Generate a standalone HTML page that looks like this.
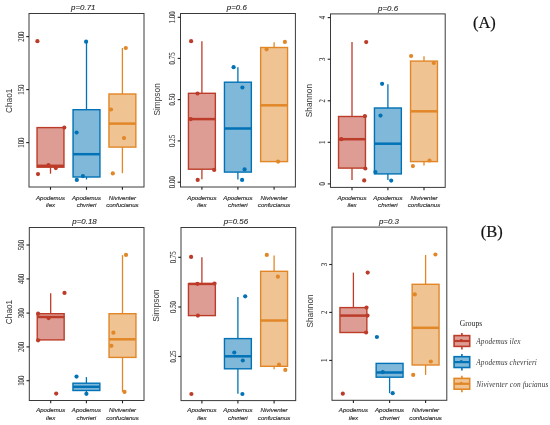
<!DOCTYPE html>
<html><head><meta charset="utf-8"><title>Alpha diversity boxplots</title>
<style>
html,body{margin:0;padding:0;background:#fff;}
body{width:550px;height:425px;overflow:hidden;}
svg{display:block;will-change:transform;}
text{font-family:"Liberation Sans",sans-serif;}
.yt{font-family:"Liberation Serif",serif;font-size:8px;fill:#333;stroke:#333;stroke-width:0.1px;text-anchor:middle;}
.xt{font-size:6.1px;font-style:italic;fill:#2a2a2a;stroke:#2a2a2a;stroke-width:0.15px;text-anchor:middle;}
.tt{font-size:7.9px;font-style:italic;fill:#1a1a1a;stroke:#1a1a1a;stroke-width:0.1px;text-anchor:middle;}
.yl{font-size:8.3px;fill:#333;text-anchor:middle;}
.ab{font-family:"Liberation Serif",serif;font-size:16.5px;fill:#111;stroke:#111;stroke-width:0.2px;text-anchor:middle;}
.lgt{font-family:"Liberation Serif",serif;font-size:7.6px;fill:#222;}
.lg{font-family:"Liberation Serif",serif;font-size:7.3px;letter-spacing:0.12px;font-style:italic;fill:#3a3a3a;}
</style></head>
<body>
<svg width="550" height="425" viewBox="0 0 550 425">
<rect width="550" height="425" fill="#fff"/>
<line x1="50.5" y1="167.2" x2="50.5" y2="173.7" stroke="#BC3C29" stroke-width="1.3"/>
<rect x="37.05" y="127.6" width="26.90" height="39.60" fill="#DD9D94" stroke="#BC3C29" stroke-width="1.4"/>
<line x1="37.05" y1="165.8" x2="63.95" y2="165.8" stroke="#BC3C29" stroke-width="2.5"/>
<circle cx="37.4" cy="41.2" r="2.1" fill="#BC3C29"/>
<circle cx="64.3" cy="127.6" r="2.1" fill="#BC3C29"/>
<circle cx="48.5" cy="165.2" r="2.1" fill="#BC3C29"/>
<circle cx="55.8" cy="168.1" r="2.1" fill="#BC3C29"/>
<circle cx="38.0" cy="174.1" r="2.1" fill="#BC3C29"/>
<line x1="86.5" y1="41.6" x2="86.5" y2="109.7" stroke="#0072B5" stroke-width="1.3"/>
<line x1="86.5" y1="177.0" x2="86.5" y2="179.5" stroke="#0072B5" stroke-width="1.3"/>
<rect x="73.05" y="109.7" width="26.90" height="67.30" fill="#80B8DA" stroke="#0072B5" stroke-width="1.4"/>
<line x1="73.05" y1="154.2" x2="99.95" y2="154.2" stroke="#0072B5" stroke-width="2.5"/>
<circle cx="86.1" cy="41.7" r="2.1" fill="#0072B5"/>
<circle cx="76.6" cy="132.5" r="2.1" fill="#0072B5"/>
<circle cx="82.9" cy="176.1" r="2.1" fill="#0072B5"/>
<circle cx="76.8" cy="179.9" r="2.1" fill="#0072B5"/>
<line x1="122.4" y1="48.0" x2="122.4" y2="94.0" stroke="#E18727" stroke-width="1.3"/>
<line x1="122.4" y1="147.1" x2="122.4" y2="173.2" stroke="#E18727" stroke-width="1.3"/>
<rect x="108.95" y="94.0" width="26.90" height="53.10" fill="#F0C393" stroke="#E18727" stroke-width="1.4"/>
<line x1="108.95" y1="123.6" x2="135.85" y2="123.6" stroke="#E18727" stroke-width="2.5"/>
<circle cx="125.8" cy="48.0" r="2.1" fill="#E18727"/>
<circle cx="111.0" cy="109.5" r="2.1" fill="#E18727"/>
<circle cx="124.0" cy="138.1" r="2.1" fill="#E18727"/>
<circle cx="112.8" cy="173.4" r="2.1" fill="#E18727"/>
<rect x="29.0" y="13.5" width="115.00" height="173.50" fill="none" stroke="#3a3a3a" stroke-width="1.0"/>
<line x1="26.20" y1="36.6" x2="29.0" y2="36.6" stroke="#222" stroke-width="1.1"/>
<text class="yt" transform="translate(23.90,36.6) rotate(-90) scale(0.86,1)">200</text>
<line x1="26.20" y1="89.6" x2="29.0" y2="89.6" stroke="#222" stroke-width="1.1"/>
<text class="yt" transform="translate(23.90,89.6) rotate(-90) scale(0.86,1)">150</text>
<line x1="26.20" y1="142.6" x2="29.0" y2="142.6" stroke="#222" stroke-width="1.1"/>
<text class="yt" transform="translate(23.90,142.6) rotate(-90) scale(0.86,1)">100</text>
<line x1="50.5" y1="187.0" x2="50.5" y2="189.80" stroke="#222" stroke-width="1.1"/>
<text class="xt" x="50.5" y="199.50">Apodemus</text>
<text class="xt" x="50.5" y="206.80">ilex</text>
<line x1="86.5" y1="187.0" x2="86.5" y2="189.80" stroke="#222" stroke-width="1.1"/>
<text class="xt" x="86.5" y="199.50">Apodemus</text>
<text class="xt" x="86.5" y="206.80">chvrieri</text>
<line x1="122.4" y1="187.0" x2="122.4" y2="189.80" stroke="#222" stroke-width="1.1"/>
<text class="xt" x="122.4" y="199.50">Niviventer</text>
<text class="xt" x="122.4" y="206.80">confucianus</text>
<text class="tt" x="83.3" y="10.3">p=0.71</text>
<text class="yl" transform="translate(11.8,100.8) rotate(-90)">Chao1</text>
<line x1="201.9" y1="41.2" x2="201.9" y2="93.3" stroke="#BC3C29" stroke-width="1.3"/>
<line x1="201.9" y1="169.2" x2="201.9" y2="179.2" stroke="#BC3C29" stroke-width="1.3"/>
<rect x="188.45" y="93.3" width="26.90" height="75.90" fill="#DD9D94" stroke="#BC3C29" stroke-width="1.4"/>
<line x1="188.45" y1="119.1" x2="215.35" y2="119.1" stroke="#BC3C29" stroke-width="2.5"/>
<circle cx="191.1" cy="41.2" r="2.1" fill="#BC3C29"/>
<circle cx="197.5" cy="93.5" r="2.1" fill="#BC3C29"/>
<circle cx="190.7" cy="119.1" r="2.1" fill="#BC3C29"/>
<circle cx="214.2" cy="169.9" r="2.1" fill="#BC3C29"/>
<circle cx="197.7" cy="179.9" r="2.1" fill="#BC3C29"/>
<line x1="237.9" y1="67.2" x2="237.9" y2="82.2" stroke="#0072B5" stroke-width="1.3"/>
<line x1="237.9" y1="172.1" x2="237.9" y2="179.5" stroke="#0072B5" stroke-width="1.3"/>
<rect x="224.45" y="82.2" width="26.90" height="89.90" fill="#80B8DA" stroke="#0072B5" stroke-width="1.4"/>
<line x1="224.45" y1="128.5" x2="251.35" y2="128.5" stroke="#0072B5" stroke-width="2.5"/>
<circle cx="233.6" cy="67.2" r="2.1" fill="#0072B5"/>
<circle cx="242.4" cy="87.5" r="2.1" fill="#0072B5"/>
<circle cx="244.6" cy="169.4" r="2.1" fill="#0072B5"/>
<circle cx="242.1" cy="179.9" r="2.1" fill="#0072B5"/>
<line x1="274.1" y1="42.3" x2="274.1" y2="47.5" stroke="#E18727" stroke-width="1.3"/>
<rect x="260.65" y="47.5" width="26.90" height="114.10" fill="#F0C393" stroke="#E18727" stroke-width="1.4"/>
<line x1="260.65" y1="105.3" x2="287.55" y2="105.3" stroke="#E18727" stroke-width="2.5"/>
<circle cx="284.9" cy="41.9" r="2.1" fill="#E18727"/>
<circle cx="266.6" cy="49.3" r="2.1" fill="#E18727"/>
<circle cx="278.1" cy="161.6" r="2.1" fill="#E18727"/>
<rect x="180.5" y="13.5" width="114.90" height="173.50" fill="none" stroke="#3a3a3a" stroke-width="1.0"/>
<line x1="177.70" y1="17.3" x2="180.5" y2="17.3" stroke="#222" stroke-width="1.1"/>
<text class="yt" transform="translate(175.40,17.3) rotate(-90) scale(0.86,1)">1.00</text>
<line x1="177.70" y1="58.4" x2="180.5" y2="58.4" stroke="#222" stroke-width="1.1"/>
<text class="yt" transform="translate(175.40,58.4) rotate(-90) scale(0.86,1)">0.75</text>
<line x1="177.70" y1="99.6" x2="180.5" y2="99.6" stroke="#222" stroke-width="1.1"/>
<text class="yt" transform="translate(175.40,99.6) rotate(-90) scale(0.86,1)">0.50</text>
<line x1="177.70" y1="140.9" x2="180.5" y2="140.9" stroke="#222" stroke-width="1.1"/>
<text class="yt" transform="translate(175.40,140.9) rotate(-90) scale(0.86,1)">0.25</text>
<line x1="177.70" y1="182.2" x2="180.5" y2="182.2" stroke="#222" stroke-width="1.1"/>
<text class="yt" transform="translate(175.40,182.2) rotate(-90) scale(0.86,1)">0.00</text>
<line x1="201.9" y1="187.0" x2="201.9" y2="189.80" stroke="#222" stroke-width="1.1"/>
<text class="xt" x="201.9" y="199.50">Apodemus</text>
<text class="xt" x="201.9" y="206.80">ilex</text>
<line x1="237.9" y1="187.0" x2="237.9" y2="189.80" stroke="#222" stroke-width="1.1"/>
<text class="xt" x="237.9" y="199.50">Apodemus</text>
<text class="xt" x="237.9" y="206.80">chvrieri</text>
<line x1="274.1" y1="187.0" x2="274.1" y2="189.80" stroke="#222" stroke-width="1.1"/>
<text class="xt" x="274.1" y="199.50">Niviventer</text>
<text class="xt" x="274.1" y="206.80">confucianus</text>
<text class="tt" x="236.8" y="10.3">p=0.6</text>
<text class="yl" transform="translate(159.6,99.4) rotate(-90)">Simpson</text>
<line x1="352.0" y1="42.1" x2="352.0" y2="116.5" stroke="#BC3C29" stroke-width="1.3"/>
<line x1="352.0" y1="168.1" x2="352.0" y2="179.9" stroke="#BC3C29" stroke-width="1.3"/>
<rect x="338.55" y="116.5" width="26.90" height="51.60" fill="#DD9D94" stroke="#BC3C29" stroke-width="1.4"/>
<line x1="338.55" y1="139.2" x2="365.45" y2="139.2" stroke="#BC3C29" stroke-width="2.5"/>
<circle cx="366.2" cy="42.1" r="2.1" fill="#BC3C29"/>
<circle cx="364.9" cy="116.2" r="2.1" fill="#BC3C29"/>
<circle cx="341.4" cy="139.2" r="2.1" fill="#BC3C29"/>
<circle cx="365.3" cy="168.5" r="2.1" fill="#BC3C29"/>
<circle cx="364.2" cy="180.4" r="2.1" fill="#BC3C29"/>
<line x1="387.9" y1="84.2" x2="387.9" y2="108.0" stroke="#0072B5" stroke-width="1.3"/>
<line x1="387.9" y1="173.9" x2="387.9" y2="179.9" stroke="#0072B5" stroke-width="1.3"/>
<rect x="374.45" y="108.0" width="26.90" height="65.90" fill="#80B8DA" stroke="#0072B5" stroke-width="1.4"/>
<line x1="374.45" y1="143.7" x2="401.35" y2="143.7" stroke="#0072B5" stroke-width="2.5"/>
<circle cx="382.1" cy="83.8" r="2.1" fill="#0072B5"/>
<circle cx="380.5" cy="115.6" r="2.1" fill="#0072B5"/>
<circle cx="375.4" cy="172.1" r="2.1" fill="#0072B5"/>
<circle cx="391.2" cy="180.6" r="2.1" fill="#0072B5"/>
<line x1="424.0" y1="56.3" x2="424.0" y2="61.1" stroke="#E18727" stroke-width="1.3"/>
<line x1="424.0" y1="161.6" x2="424.0" y2="165.6" stroke="#E18727" stroke-width="1.3"/>
<rect x="410.55" y="61.1" width="26.90" height="100.50" fill="#F0C393" stroke="#E18727" stroke-width="1.4"/>
<line x1="410.55" y1="111.3" x2="437.45" y2="111.3" stroke="#E18727" stroke-width="2.5"/>
<circle cx="411.1" cy="56.0" r="2.1" fill="#E18727"/>
<circle cx="433.8" cy="63.0" r="2.1" fill="#E18727"/>
<circle cx="429.5" cy="160.5" r="2.1" fill="#E18727"/>
<circle cx="412.9" cy="166.1" r="2.1" fill="#E18727"/>
<rect x="330.5" y="13.9" width="114.70" height="173.50" fill="none" stroke="#3a3a3a" stroke-width="1.0"/>
<line x1="327.70" y1="17.6" x2="330.5" y2="17.6" stroke="#222" stroke-width="1.1"/>
<text class="yt" transform="translate(325.40,17.6) rotate(-90) scale(0.86,1)">4</text>
<line x1="327.70" y1="59.2" x2="330.5" y2="59.2" stroke="#222" stroke-width="1.1"/>
<text class="yt" transform="translate(325.40,59.2) rotate(-90) scale(0.86,1)">3</text>
<line x1="327.70" y1="100.8" x2="330.5" y2="100.8" stroke="#222" stroke-width="1.1"/>
<text class="yt" transform="translate(325.40,100.8) rotate(-90) scale(0.86,1)">2</text>
<line x1="327.70" y1="142.3" x2="330.5" y2="142.3" stroke="#222" stroke-width="1.1"/>
<text class="yt" transform="translate(325.40,142.3) rotate(-90) scale(0.86,1)">1</text>
<line x1="327.70" y1="183.9" x2="330.5" y2="183.9" stroke="#222" stroke-width="1.1"/>
<text class="yt" transform="translate(325.40,183.9) rotate(-90) scale(0.86,1)">0</text>
<line x1="352.0" y1="187.4" x2="352.0" y2="190.20" stroke="#222" stroke-width="1.1"/>
<text class="xt" x="352.0" y="199.90">Apodemus</text>
<text class="xt" x="352.0" y="207.20">ilex</text>
<line x1="387.9" y1="187.4" x2="387.9" y2="190.20" stroke="#222" stroke-width="1.1"/>
<text class="xt" x="387.9" y="199.90">Apodemus</text>
<text class="xt" x="387.9" y="207.20">chvrieri</text>
<line x1="424.0" y1="187.4" x2="424.0" y2="190.20" stroke="#222" stroke-width="1.1"/>
<text class="xt" x="424.0" y="199.90">Niviventer</text>
<text class="xt" x="424.0" y="207.20">confucianus</text>
<text class="tt" x="388.1" y="10.8">p=0.6</text>
<text class="yl" transform="translate(311.8,100.6) rotate(-90)">Shannon</text>
<line x1="50.7" y1="293.3" x2="50.7" y2="313.7" stroke="#BC3C29" stroke-width="1.3"/>
<rect x="37.25" y="313.7" width="26.90" height="26.20" fill="#DD9D94" stroke="#BC3C29" stroke-width="1.4"/>
<line x1="37.25" y1="317.0" x2="64.15" y2="317.0" stroke="#BC3C29" stroke-width="2.5"/>
<circle cx="64.5" cy="292.9" r="2.1" fill="#BC3C29"/>
<circle cx="38.1" cy="313.7" r="2.1" fill="#BC3C29"/>
<circle cx="48.6" cy="318.1" r="2.1" fill="#BC3C29"/>
<circle cx="38.1" cy="340.3" r="2.1" fill="#BC3C29"/>
<circle cx="56.2" cy="393.6" r="2.1" fill="#BC3C29"/>
<line x1="86.4" y1="377.1" x2="86.4" y2="383.2" stroke="#0072B5" stroke-width="1.3"/>
<line x1="86.4" y1="390.5" x2="86.4" y2="393.8" stroke="#0072B5" stroke-width="1.3"/>
<rect x="72.95" y="383.2" width="26.90" height="7.30" fill="#80B8DA" stroke="#0072B5" stroke-width="1.4"/>
<line x1="72.95" y1="386.8" x2="99.85" y2="386.8" stroke="#0072B5" stroke-width="2.5"/>
<circle cx="76.5" cy="376.6" r="2.1" fill="#0072B5"/>
<circle cx="86.4" cy="393.8" r="2.1" fill="#0072B5"/>
<line x1="122.5" y1="255.1" x2="122.5" y2="313.7" stroke="#E18727" stroke-width="1.3"/>
<line x1="122.5" y1="357.4" x2="122.5" y2="391.8" stroke="#E18727" stroke-width="1.3"/>
<rect x="109.05" y="313.7" width="26.90" height="43.70" fill="#F0C393" stroke="#E18727" stroke-width="1.4"/>
<line x1="109.05" y1="339.3" x2="135.95" y2="339.3" stroke="#E18727" stroke-width="2.5"/>
<circle cx="126.0" cy="254.9" r="2.1" fill="#E18727"/>
<circle cx="113.4" cy="332.7" r="2.1" fill="#E18727"/>
<circle cx="111.4" cy="345.8" r="2.1" fill="#E18727"/>
<circle cx="124.5" cy="391.9" r="2.1" fill="#E18727"/>
<rect x="29.3" y="227.5" width="114.70" height="173.00" fill="none" stroke="#3a3a3a" stroke-width="1.0"/>
<line x1="26.50" y1="245.0" x2="29.3" y2="245.0" stroke="#222" stroke-width="1.1"/>
<text class="yt" transform="translate(24.20,245.0) rotate(-90) scale(0.86,1)">500</text>
<line x1="26.50" y1="278.9" x2="29.3" y2="278.9" stroke="#222" stroke-width="1.1"/>
<text class="yt" transform="translate(24.20,278.9) rotate(-90) scale(0.86,1)">400</text>
<line x1="26.50" y1="313.1" x2="29.3" y2="313.1" stroke="#222" stroke-width="1.1"/>
<text class="yt" transform="translate(24.20,313.1) rotate(-90) scale(0.86,1)">300</text>
<line x1="26.50" y1="346.9" x2="29.3" y2="346.9" stroke="#222" stroke-width="1.1"/>
<text class="yt" transform="translate(24.20,346.9) rotate(-90) scale(0.86,1)">200</text>
<line x1="26.50" y1="380.7" x2="29.3" y2="380.7" stroke="#222" stroke-width="1.1"/>
<text class="yt" transform="translate(24.20,380.7) rotate(-90) scale(0.86,1)">100</text>
<line x1="50.7" y1="400.5" x2="50.7" y2="403.30" stroke="#222" stroke-width="1.1"/>
<text class="xt" x="50.7" y="412.10">Apodemus</text>
<text class="xt" x="50.7" y="419.70">ilex</text>
<line x1="86.4" y1="400.5" x2="86.4" y2="403.30" stroke="#222" stroke-width="1.1"/>
<text class="xt" x="86.4" y="412.10">Apodemus</text>
<text class="xt" x="86.4" y="419.70">chvrieri</text>
<line x1="122.5" y1="400.5" x2="122.5" y2="403.30" stroke="#222" stroke-width="1.1"/>
<text class="xt" x="122.5" y="412.10">Niviventer</text>
<text class="xt" x="122.5" y="419.70">confucianus</text>
<text class="tt" x="84.5" y="224.3">p=0.18</text>
<text class="yl" transform="translate(12.0,312.0) rotate(-90)">Chao1</text>
<line x1="201.9" y1="257.3" x2="201.9" y2="283.7" stroke="#BC3C29" stroke-width="1.3"/>
<rect x="188.45" y="283.7" width="26.90" height="31.90" fill="#DD9D94" stroke="#BC3C29" stroke-width="1.4"/>
<line x1="188.45" y1="283.9" x2="215.35" y2="283.9" stroke="#BC3C29" stroke-width="2.5"/>
<circle cx="191.1" cy="256.9" r="2.1" fill="#BC3C29"/>
<circle cx="197.4" cy="283.8" r="2.1" fill="#BC3C29"/>
<circle cx="214.5" cy="283.5" r="2.1" fill="#BC3C29"/>
<circle cx="197.9" cy="315.6" r="2.1" fill="#BC3C29"/>
<circle cx="191.4" cy="394.0" r="2.1" fill="#BC3C29"/>
<line x1="237.9" y1="297.0" x2="237.9" y2="338.6" stroke="#0072B5" stroke-width="1.3"/>
<line x1="237.9" y1="368.8" x2="237.9" y2="393.8" stroke="#0072B5" stroke-width="1.3"/>
<rect x="224.45" y="338.6" width="26.90" height="30.20" fill="#80B8DA" stroke="#0072B5" stroke-width="1.4"/>
<line x1="224.45" y1="356.3" x2="251.35" y2="356.3" stroke="#0072B5" stroke-width="2.5"/>
<circle cx="245.2" cy="296.3" r="2.1" fill="#0072B5"/>
<circle cx="234.3" cy="352.5" r="2.1" fill="#0072B5"/>
<circle cx="242.8" cy="360.5" r="2.1" fill="#0072B5"/>
<circle cx="242.4" cy="394.0" r="2.1" fill="#0072B5"/>
<line x1="274.1" y1="255.5" x2="274.1" y2="271.3" stroke="#E18727" stroke-width="1.3"/>
<line x1="274.1" y1="366.3" x2="274.1" y2="369.2" stroke="#E18727" stroke-width="1.3"/>
<rect x="260.65" y="271.3" width="26.90" height="95.00" fill="#F0C393" stroke="#E18727" stroke-width="1.4"/>
<line x1="260.65" y1="320.5" x2="287.55" y2="320.5" stroke="#E18727" stroke-width="2.5"/>
<circle cx="266.8" cy="254.9" r="2.1" fill="#E18727"/>
<circle cx="277.9" cy="276.7" r="2.1" fill="#E18727"/>
<circle cx="279.0" cy="364.7" r="2.1" fill="#E18727"/>
<circle cx="285.3" cy="369.9" r="2.1" fill="#E18727"/>
<rect x="181.0" y="227.5" width="114.70" height="173.10" fill="none" stroke="#3a3a3a" stroke-width="1.0"/>
<line x1="178.20" y1="257.3" x2="181.0" y2="257.3" stroke="#222" stroke-width="1.1"/>
<text class="yt" transform="translate(175.90,257.3) rotate(-90) scale(0.86,1)">0.75</text>
<line x1="178.20" y1="307.0" x2="181.0" y2="307.0" stroke="#222" stroke-width="1.1"/>
<text class="yt" transform="translate(175.90,307.0) rotate(-90) scale(0.86,1)">0.50</text>
<line x1="178.20" y1="356.5" x2="181.0" y2="356.5" stroke="#222" stroke-width="1.1"/>
<text class="yt" transform="translate(175.90,356.5) rotate(-90) scale(0.86,1)">0.25</text>
<line x1="201.9" y1="400.6" x2="201.9" y2="403.40" stroke="#222" stroke-width="1.1"/>
<text class="xt" x="201.9" y="412.20">Apodemus</text>
<text class="xt" x="201.9" y="419.80">ilex</text>
<line x1="237.9" y1="400.6" x2="237.9" y2="403.40" stroke="#222" stroke-width="1.1"/>
<text class="xt" x="237.9" y="412.20">Apodemus</text>
<text class="xt" x="237.9" y="419.80">chvrieri</text>
<line x1="274.1" y1="400.6" x2="274.1" y2="403.40" stroke="#222" stroke-width="1.1"/>
<text class="xt" x="274.1" y="412.20">Niviventer</text>
<text class="xt" x="274.1" y="419.80">confucianus</text>
<text class="tt" x="235.9" y="224.3">p=0.56</text>
<text class="yl" transform="translate(159.2,305.5) rotate(-90)">Simpson</text>
<line x1="353.4" y1="272.6" x2="353.4" y2="307.6" stroke="#BC3C29" stroke-width="1.3"/>
<rect x="339.95" y="307.6" width="26.90" height="24.90" fill="#DD9D94" stroke="#BC3C29" stroke-width="1.4"/>
<line x1="339.95" y1="315.6" x2="366.85" y2="315.6" stroke="#BC3C29" stroke-width="2.5"/>
<circle cx="367.7" cy="272.6" r="2.1" fill="#BC3C29"/>
<circle cx="366.5" cy="307.6" r="2.1" fill="#BC3C29"/>
<circle cx="367.5" cy="315.6" r="2.1" fill="#BC3C29"/>
<circle cx="366.1" cy="332.5" r="2.1" fill="#BC3C29"/>
<circle cx="342.8" cy="393.7" r="2.1" fill="#BC3C29"/>
<line x1="389.6" y1="377.2" x2="389.6" y2="393.2" stroke="#0072B5" stroke-width="1.3"/>
<rect x="376.15" y="363.4" width="26.90" height="13.80" fill="#80B8DA" stroke="#0072B5" stroke-width="1.4"/>
<line x1="376.15" y1="372.5" x2="403.05" y2="372.5" stroke="#0072B5" stroke-width="2.5"/>
<circle cx="376.9" cy="337.0" r="2.1" fill="#0072B5"/>
<circle cx="382.8" cy="372.1" r="2.1" fill="#0072B5"/>
<circle cx="392.7" cy="393.2" r="2.1" fill="#0072B5"/>
<line x1="425.6" y1="254.9" x2="425.6" y2="284.3" stroke="#E18727" stroke-width="1.3"/>
<line x1="425.6" y1="365.0" x2="425.6" y2="374.9" stroke="#E18727" stroke-width="1.3"/>
<rect x="412.15" y="284.3" width="26.90" height="80.70" fill="#F0C393" stroke="#E18727" stroke-width="1.4"/>
<line x1="412.15" y1="327.8" x2="439.05" y2="327.8" stroke="#E18727" stroke-width="2.5"/>
<circle cx="435.4" cy="254.5" r="2.1" fill="#E18727"/>
<circle cx="414.8" cy="294.4" r="2.1" fill="#E18727"/>
<circle cx="430.8" cy="361.5" r="2.1" fill="#E18727"/>
<circle cx="413.2" cy="374.9" r="2.1" fill="#E18727"/>
<rect x="332.0" y="227.1" width="114.80" height="173.20" fill="none" stroke="#3a3a3a" stroke-width="1.0"/>
<line x1="329.20" y1="264.5" x2="332.0" y2="264.5" stroke="#222" stroke-width="1.1"/>
<text class="yt" transform="translate(326.90,264.5) rotate(-90) scale(0.86,1)">3</text>
<line x1="329.20" y1="312.4" x2="332.0" y2="312.4" stroke="#222" stroke-width="1.1"/>
<text class="yt" transform="translate(326.90,312.4) rotate(-90) scale(0.86,1)">2</text>
<line x1="329.20" y1="360.4" x2="332.0" y2="360.4" stroke="#222" stroke-width="1.1"/>
<text class="yt" transform="translate(326.90,360.4) rotate(-90) scale(0.86,1)">1</text>
<line x1="353.4" y1="400.3" x2="353.4" y2="403.10" stroke="#222" stroke-width="1.1"/>
<text class="xt" x="353.4" y="411.90">Apodemus</text>
<text class="xt" x="353.4" y="419.50">ilex</text>
<line x1="389.6" y1="400.3" x2="389.6" y2="403.10" stroke="#222" stroke-width="1.1"/>
<text class="xt" x="389.6" y="411.90">Apodemus</text>
<text class="xt" x="389.6" y="419.50">chvrieri</text>
<line x1="425.6" y1="400.3" x2="425.6" y2="403.10" stroke="#222" stroke-width="1.1"/>
<text class="xt" x="425.6" y="411.90">Niviventer</text>
<text class="xt" x="425.6" y="419.50">confucianus</text>
<text class="tt" x="388.9" y="224.0">p=0.3</text>
<text class="yl" transform="translate(312.9,311.0) rotate(-90)">Shannon</text>
<text class="ab" x="484.4" y="27.8">(A)</text>
<text class="ab" x="491.8" y="236.8">(B)</text>
<text class="lgt" x="459.8" y="325.9">Groups</text>
<line x1="461.9" y1="332.90" x2="461.9" y2="349.50" stroke="#BC3C29" stroke-width="1.6"/>
<rect x="454.10" y="335.60" width="15.6" height="10.8" fill="#DD9D94" stroke="#BC3C29" stroke-width="1.6"/>
<line x1="454.10" y1="341.0" x2="469.70" y2="341.0" stroke="#BC3C29" stroke-width="2.2"/>
<circle cx="461.30" cy="340.40" r="1.4" fill="#BC3C29"/>
<text class="lg" x="476.3" y="344.00">Apodemus ilex</text>
<line x1="461.9" y1="354.00" x2="461.9" y2="370.60" stroke="#0072B5" stroke-width="1.6"/>
<rect x="454.10" y="356.70" width="15.6" height="10.8" fill="#80B8DA" stroke="#0072B5" stroke-width="1.6"/>
<line x1="454.10" y1="362.1" x2="469.70" y2="362.1" stroke="#0072B5" stroke-width="2.2"/>
<circle cx="461.30" cy="361.50" r="1.4" fill="#0072B5"/>
<text class="lg" x="476.3" y="365.10">Apodemus chevrieri</text>
<line x1="461.9" y1="375.70" x2="461.9" y2="392.30" stroke="#E18727" stroke-width="1.6"/>
<rect x="454.10" y="378.40" width="15.6" height="10.8" fill="#F0C393" stroke="#E18727" stroke-width="1.6"/>
<line x1="454.10" y1="383.8" x2="469.70" y2="383.8" stroke="#E18727" stroke-width="2.2"/>
<circle cx="461.30" cy="383.20" r="1.4" fill="#E18727"/>
<text class="lg" x="476.3" y="386.80">Niviventer con fucianus</text>
</svg>
</body></html>
